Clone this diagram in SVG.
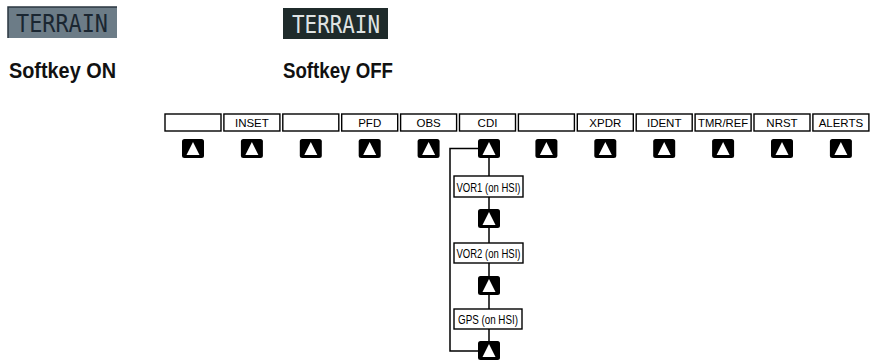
<svg xmlns="http://www.w3.org/2000/svg" width="871" height="361" viewBox="0 0 871 361">
  <style>
    .key { fill: #ffffff; stroke: #000000; stroke-width: 1.4; }
    .klabel { font-family: "Liberation Sans", Arial, sans-serif; font-size: 11.5px; fill: #000000; text-anchor: middle; }
    .btn { fill: #000000; }
    .tri { fill: #ffffff; }
    .box { fill: #ffffff; stroke: #000000; stroke-width: 1.4; }
    .blabel { font-family: "Liberation Sans", Arial, sans-serif; font-size: 13px; fill: #000000; text-anchor: middle; }
    .conn { fill: none; stroke: #000000; stroke-width: 1.5; }
    .cap { font-family: "Liberation Sans", Arial, sans-serif; font-size: 22px; font-weight: bold; fill: #111111; }
    .terr { font-family: "DejaVu Sans Mono", "Liberation Mono", monospace; font-size: 25px; }
  </style>
  <defs>
    <g id="btn">
      <rect class="btn" x="-11" y="0" width="22" height="19" rx="2.5"/>
      <polygon class="tri" points="0,3 -6.5,16 6.5,16"/>
    </g>
  </defs>

  <g id="legend-on">
    <rect x="8" y="7" width="109" height="31" fill="#6c7c87"/>
    <path d="M8,38 V7 H117" fill="none" stroke="#2a3640" stroke-width="1.5"/>
    <text class="terr" x="16" y="32" fill="#1a2631" textLength="92" lengthAdjust="spacingAndGlyphs">TERRAIN</text>
    <text class="cap" x="9" y="78" textLength="107" lengthAdjust="spacingAndGlyphs">Softkey ON</text>
  </g>
  <g id="legend-off">
    <rect x="283" y="8" width="105" height="31" fill="#1f2b2b"/>
    <text class="terr" x="292" y="33" fill="#dfe3e3" textLength="88" lengthAdjust="spacingAndGlyphs">TERRAIN</text>
    <text class="cap" x="283" y="78" textLength="110" lengthAdjust="spacingAndGlyphs">Softkey OFF</text>
  </g>

  <g id="connectors">
    <path class="conn" d="M489,158 V176"/>
    <path class="conn" d="M489,197 V209"/>
    <path class="conn" d="M489,228 V243"/>
    <path class="conn" d="M489,263 V276"/>
    <path class="conn" d="M489,295 V309"/>
    <path class="conn" d="M489,329 V341"/>
    <path class="conn" d="M478,148.5 H450 V351 H478"/>
  </g>

  <g id="softkeys">
    <g id="key1"><rect class="key" x="165" y="114" width="56" height="17"/><use href="#btn" x="193" y="139"/></g>
    <g id="key2"><rect class="key" x="223.9" y="114" width="56" height="17"/><text class="klabel" x="251.9" y="127">INSET</text><use href="#btn" x="251.9" y="139"/></g>
    <g id="key3"><rect class="key" x="282.8" y="114" width="56" height="17"/><use href="#btn" x="310.8" y="139"/></g>
    <g id="key4"><rect class="key" x="341.7" y="114" width="56" height="17"/><text class="klabel" x="369.7" y="127">PFD</text><use href="#btn" x="369.7" y="139"/></g>
    <g id="key5"><rect class="key" x="400.6" y="114" width="56" height="17"/><text class="klabel" x="428.6" y="127">OBS</text><use href="#btn" x="428.6" y="139"/></g>
    <g id="key6"><rect class="key" x="459.5" y="114" width="56" height="17"/><text class="klabel" x="487.5" y="127">CDI</text><use href="#btn" x="489" y="139"/></g>
    <g id="key7"><rect class="key" x="518.4" y="114" width="56" height="17"/><use href="#btn" x="546.4" y="139"/></g>
    <g id="key8"><rect class="key" x="577.3" y="114" width="56" height="17"/><text class="klabel" x="605.3" y="127">XPDR</text><use href="#btn" x="605.3" y="139"/></g>
    <g id="key9"><rect class="key" x="636.2" y="114" width="56" height="17"/><text class="klabel" x="664.2" y="127">IDENT</text><use href="#btn" x="664.2" y="139"/></g>
    <g id="key10"><rect class="key" x="695.1" y="114" width="56" height="17"/><text class="klabel" x="723.1" y="127" textLength="50" lengthAdjust="spacingAndGlyphs">TMR/REF</text><use href="#btn" x="723.1" y="139"/></g>
    <g id="key11"><rect class="key" x="754" y="114" width="56" height="17"/><text class="klabel" x="782" y="127">NRST</text><use href="#btn" x="782" y="139"/></g>
    <g id="key12"><rect class="key" x="812.9" y="114" width="56" height="17"/><text class="klabel" x="840.9" y="127">ALERTS</text><use href="#btn" x="840.9" y="139"/></g>
  </g>

  <g id="vor1">
    <rect class="box" x="454" y="176" width="69" height="21"/>
    <text class="blabel" x="488.5" y="191.5" textLength="64" lengthAdjust="spacingAndGlyphs">VOR1 (on HSI)</text>
  </g>
  <g id="btn-vor1"><use href="#btn" x="489" y="209"/></g>
  <g id="vor2">
    <rect class="box" x="454" y="243" width="69" height="20"/>
    <text class="blabel" x="488.5" y="258" textLength="64" lengthAdjust="spacingAndGlyphs">VOR2 (on HSI)</text>
  </g>
  <g id="btn-vor2"><use href="#btn" x="489" y="276"/></g>
  <g id="gps">
    <rect class="box" x="454" y="309" width="68" height="20"/>
    <text class="blabel" x="488" y="324" textLength="60" lengthAdjust="spacingAndGlyphs">GPS (on HSI)</text>
  </g>
  <g id="btn-gps"><use href="#btn" x="489" y="341"/></g>
</svg>
